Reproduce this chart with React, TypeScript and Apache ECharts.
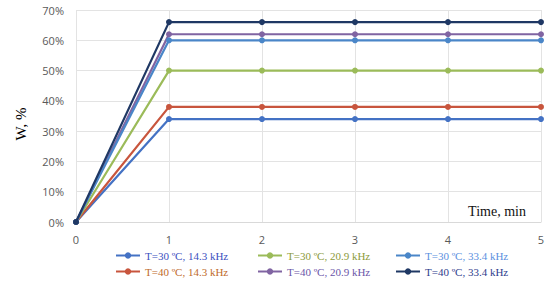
import React, { useEffect, useRef } from "react";
import * as echarts from "echarts";

const times = [0, 1, 2, 3, 4, 5];
const t30_143 = [0, 34, 34, 34, 34, 34];
const t40_143 = [0, 38, 38, 38, 38, 38];
const t30_209 = [0, 50, 50, 50, 50, 50];
const t40_209 = [0, 62, 62, 62, 62, 62];
const t30_334 = [0, 60, 60, 60, 60, 60];
const t40_334 = [0, 66, 66, 66, 66, 66];

const names = [
  "T=30 ºC, 14.3 kHz",
  "T=40 ºC, 14.3 kHz",
  "T=30 ºC, 20.9 kHz",
  "T=40 ºC, 20.9 kHz",
  "T=30 ºC, 33.4 kHz",
  "T=40 ºC, 33.4 kHz",
];
const colors = ["#4472C4", "#C8553D", "#9BBB59", "#8064A2", "#4A86C8", "#1F3864"];
const textColors = ["#3B4FC0", "#C06A2A", "#8C9A3A", "#6A55A8", "#5A8FE0", "#2E3C8C"];
const seriesData = [t30_143, t40_143, t30_209, t40_209, t30_334, t40_334];

export default function App() {
  const ref = useRef<HTMLDivElement>(null);
  useEffect(() => {
    const chart = echarts.init(ref.current!, null, { renderer: "svg" });
    const legendItem = (i: number) => ({
      name: names[i],
      textStyle: { color: textColors[i] },
    });
    const legendBase = {
      orient: "vertical",
      itemWidth: 24,
      itemHeight: 8,
      itemGap: 5,
      textStyle: { fontFamily: "Liberation Serif", fontSize: 11 },
    };
    chart.setOption({
      animation: false,
      backgroundColor: "#ffffff",
      grid: { left: 76, right: 9, top: 10, bottom: 64 },
      xAxis: {
        type: "value",
        min: 0,
        max: 5,
        interval: 1,
        axisLine: { show: true, lineStyle: { color: "#d9d9d9" } },
        axisTick: { show: false },
        splitLine: { show: true, lineStyle: { color: "#e3e3e3" } },
        axisLabel: { color: "#595959", fontSize: 11, margin: 12, fontFamily: "Open Sans" },
      },
      yAxis: {
        type: "value",
        min: 0,
        max: 70,
        interval: 10,
        axisLine: { show: false },
        axisTick: { show: false },
        splitLine: { show: true, lineStyle: { color: "#e3e3e3" } },
        axisLabel: {
          color: "#595959",
          fontSize: 11,
          margin: 12,
          fontFamily: "Open Sans",
          formatter: (v: number) => v + "%",
        },
      },
      legend: [
        { ...legendBase, left: 110, top: 245, data: [legendItem(0), legendItem(1)] },
        { ...legendBase, left: 252, top: 245, data: [legendItem(2), legendItem(3)] },
        { ...legendBase, left: 390, top: 245, data: [legendItem(4), legendItem(5)] },
      ],
      graphic: [
        {
          type: "text",
          x: 21,
          y: 124,
          rotation: Math.PI / 2,
          style: {
            text: "W, %",
            font: "15px 'Liberation Serif'",
            fill: "#000",
            align: "center",
            verticalAlign: "middle",
          },
        },
        {
          type: "text",
          x: 497,
          y: 211,
          style: {
            text: "Time, min",
            font: "14px 'Liberation Serif'",
            fill: "#111",
            align: "center",
            verticalAlign: "middle",
          },
        },
      ],
      series: seriesData.map((d, i) => ({
        name: names[i],
        type: "line",
        data: d.map((v, j) => [times[j], v]),
        color: colors[i],
        lineStyle: { width: 2.2, color: colors[i] },
        itemStyle: { color: colors[i] },
        symbol: "circle",
        symbolSize: 6,
        z: 2 + i,
      })),
    });
    return () => chart.dispose();
  }, []);
  return <div ref={ref} style={{ width: 550, height: 286, position: "absolute", left: 0, top: 0 }} />;
}
